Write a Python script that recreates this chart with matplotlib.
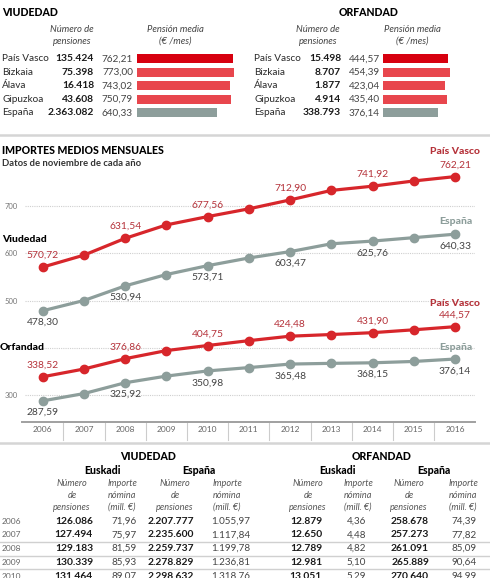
import matplotlib
matplotlib.use('Agg')
import matplotlib.pyplot as plt
from matplotlib.lines import Line2D
import matplotlib.transforms as mtransforms

plt.rcParams['font.family'] = ['Lato', 'DejaVu Sans']

########################## data ##########################
regiones = ['País Vasco', 'Bizkaia', 'Álava', 'Gipuzkoa', 'España']
viu_num = ['135.424', '75.398', '16.418', '43.608', '2.363.082']
viu_media = [762.21, 773.00, 743.02, 750.79, 640.33]
orf_num = ['15.498', '8.707', '1.877', '4.914', '338.793']
orf_media = [444.57, 454.39, 423.04, 435.40, 376.14]

years = [2006, 2007, 2008, 2009, 2010, 2011, 2012, 2013, 2014, 2015, 2016]
viu_pv = [570.72, 596, 631.54, 660, 677.56, 694, 712.90, 733, 741.92, 753, 762.21]
viu_es = [478.30, 500, 530.94, 555, 573.71, 590, 603.47, 620, 625.76, 633, 640.33]
orf_pv = [338.52, 355, 376.86, 394, 404.75, 415, 424.48, 428, 431.90, 438, 444.57]
orf_es = [287.59, 303, 325.92, 340, 350.98, 358, 365.48, 367, 368.15, 371, 376.14]
label_years = [2006, 2008, 2010, 2012, 2014, 2016]
yticks_shown = [300, 500, 600, 700]

tab_years = ['2006', '2007', '2008', '2009', '2010']
viu_eus_num = ['126.086', '127.494', '129.183', '130.339', '131.464']
viu_eus_imp = ['71,96', '75,97', '81,59', '85,93', '89,07']
viu_esp_num = ['2.207.777', '2.235.600', '2.259.737', '2.278.829', '2.298.632']
viu_esp_imp = ['1.055,97', '1.117,84', '1.199,78', '1.236,81', '1.318,76']
orf_eus_num = ['12.879', '12.650', '12.789', '12.981', '13.051']
orf_eus_imp = ['4,36', '4,48', '4,82', '5,10', '5,29']
orf_esp_num = ['258.678', '257.273', '261.091', '265.889', '270.640']
orf_esp_imp = ['74,39', '77,82', '85,09', '90,64', '94,99']

RED = '#d7262b'
RED_TXT = '#b5323a'
GRAY = '#8d9e9b'
BAR_DARK = '#d7000f'
BAR_RED = '#e8464d'
DARK = '#1a1a1a'
MID = '#444444'

W, H = 490, 578
fig = plt.figure(figsize=(W / 100, H / 100), dpi=100)
fig.patch.set_facecolor('white')


def ft(x, y, s, **kw):
    kw.setdefault('va', 'center')
    fig.text(x / W, 1 - y / H, s, **kw)


def ax_px(x0, y0, x1, y1):
    return fig.add_axes([x0 / W, 1 - y1 / H, (x1 - x0) / W, (y1 - y0) / H])


def fmt(v):
    return ('%.2f' % v).replace('.', ',')


########################## top tables ##########################
row_y = [58.8 + 13.5 * i for i in range(5)]


def top_table(title, tx, tha, lab_x, num_x, val_x, bar_x0, bar_x1, scale, nums, vals, hdr1, hdr2):
    ft(tx, 12, title, ha=tha, fontsize=7.6, fontweight='black', color='black')
    ft(hdr1, 30, 'Número de', ha='center', fontsize=6.8, style='italic', color=MID)
    ft(hdr1, 41, 'pensiones', ha='center', fontsize=6.8, style='italic', color=MID)
    ft(hdr2, 30, 'Pensión media', ha='center', fontsize=6.8, style='italic', color=MID)
    ft(hdr2, 41, '(€ /mes)', ha='center', fontsize=6.8, style='italic', color=MID)
    for i in range(5):
        ft(lab_x, row_y[i], regiones[i], ha='left', fontsize=7.2, color='#2a2a2a')
        ft(num_x, row_y[i], nums[i], ha='right', fontsize=7.4, fontweight='bold', color=DARK)
        ft(val_x, row_y[i], fmt(vals[i]), ha='right', fontsize=7.2, color=MID)
    ax = ax_px(bar_x0, row_y[0] - 6.75, bar_x1, row_y[-1] + 6.75)
    cols = [BAR_DARK, BAR_RED, BAR_RED, BAR_RED, GRAY]
    ax.barh(range(5), vals, height=0.67, color=cols)
    ax.set_xlim(0, (bar_x1 - bar_x0) / scale)
    ax.set_ylim(4.5, -0.5)
    ax.axis('off')


top_table('VIUDEDAD', 2, 'left', 2, 94, 133, 137, 245, 0.1255,
          viu_num, viu_media, 72, 175)
top_table('ORFANDAD', 369, 'center', 254, 341, 380, 383, 470, 0.147,
          orf_num, orf_media, 318, 412)

fig.add_artist(Line2D([0, 1], [1 - 134.5 / H] * 2, color='#d5d5d5', lw=1.8))
fig.add_artist(Line2D([0, 1], [1 - 443 / H] * 2, color='#d5d5d5', lw=1.8))

########################## line chart ##########################
ft(2, 150, 'IMPORTES MEDIOS MENSUALES', ha='left', fontsize=7.6, fontweight='black', color='black')
ft(2, 163, 'Datos de noviembre de cada año', ha='left', fontsize=6.8, fontweight='bold', color='#333333')

left, right, top, bottom = 22, 475, 140, 421.7
ax = ax_px(left, top, right, bottom)
ppy = 41.25
ppv = 0.4725
ax.set_xlim(2006 - (42.7 - left) / ppy, 2016 + (right - 455) / ppy)
ax.set_ylim(300 - (bottom - 395) / ppv, 700 + (206 - top) / ppv)
for s in ['top', 'right', 'left']:
    ax.spines[s].set_visible(False)
ax.spines['bottom'].set_color('#a0a0a0')
ax.spines['bottom'].set_linewidth(1.4)
ax.set_xticks([])
ax.set_yticks(yticks_shown)
ax.set_yticklabels([str(v) for v in yticks_shown], fontsize=5.5, color='#777777')
ax.tick_params(axis='y', length=0, pad=3)
for v in [300, 400, 500, 600, 700]:
    ax.axhline(v, xmin=0.006, xmax=1, color='#cfcfcf', lw=0.8, ls=(0, (1, 1)), zorder=0)

trans = mtransforms.blended_transform_factory(ax.transData, ax.transAxes)
hgt = bottom - top
for yr in years:
    ax.text(yr, -(430 - bottom) / hgt, str(yr), transform=trans, ha='center', va='center',
            fontsize=6, color='#666666')
    if yr < years[-1]:
        ax.add_line(Line2D([yr + 0.5, yr + 0.5], [0, -(440 - bottom) / hgt], transform=trans,
                           color='#cccccc', lw=0.8, clip_on=False))

for vals, col, tcol, up in [(viu_pv, RED, RED_TXT, True), (viu_es, GRAY, MID, False),
                            (orf_pv, RED, RED_TXT, True), (orf_es, GRAY, MID, False)]:
    ax.plot(years, vals, color=col, lw=2.3, marker='o', ms=6, zorder=3)
    for yr, v in zip(years, vals):
        if yr in label_years:
            ax.annotate(fmt(v), (yr, v), xytext=(0, 8.5 if up else -8.5), textcoords='offset points',
                        ha='center', va='center', fontsize=7.4, color=tcol)

ft(2, 239, 'Viudedad', ha='left', fontsize=7.5, fontweight='black', color='black')
ft(0, 347, 'Orfandad', ha='left', fontsize=7.5, fontweight='black', color='black')
ft(480, 152, 'País Vasco', ha='right', fontsize=7.5, fontweight='black', color=RED_TXT)
ft(472, 221, 'España', ha='right', fontsize=7.5, fontweight='black', color=GRAY)
ft(480, 303, 'País Vasco', ha='right', fontsize=7.5, fontweight='black', color=RED_TXT)
ft(472, 347, 'España', ha='right', fontsize=7.5, fontweight='black', color=GRAY)

########################## bottom table ##########################
trow = [521 + 13.8 * i for i in range(5)]


def bottom_block(title, tcx, eus_cx, esp_cx, cols, data):
    ft(tcx, 456, title, ha='center', fontsize=7.6, fontweight='black', color='black')
    ft(eus_cx, 471, 'Euskadi', ha='center', fontsize=7.6, fontweight='black', color='black')
    ft(esp_cx, 471, 'España', ha='center', fontsize=7.6, fontweight='black', color='black')
    hdrs = [['Número', 'de', 'pensiones'], ['Importe', 'nómina', '(mill. €)']] * 2
    for (cx, rx), hdr, (vals, bold) in zip(cols, hdrs, data):
        for j, line in enumerate(hdr):
            ft(cx, 483 + 12 * j, line, ha='center', fontsize=6.6, style='italic', color='#555555')
        for i, v in enumerate(vals):
            ft(rx, trow[i], v, ha='right', fontsize=7.4 if bold else 7.1,
               fontweight='bold' if bold else 'normal', color=DARK if bold else MID)


bottom_block('VIUDEDAD', 148, 102, 199,
             [(72, 93), (122, 137), (175, 194), (227, 250)],
             [(viu_eus_num, True), (viu_eus_imp, False), (viu_esp_num, True), (viu_esp_imp, False)])
bottom_block('ORFANDAD', 382, 337, 434,
             [(308, 322), (358, 366), (409, 429), (463, 477)],
             [(orf_eus_num, True), (orf_eus_imp, False), (orf_esp_num, True), (orf_esp_imp, False)])

for i, y in enumerate(trow):
    ft(2, y, tab_years[i], ha='left', fontsize=6, color='#666666')
for i in range(1, 4):
    yy = (trow[i] + trow[i + 1]) / 2
    fig.add_artist(Line2D([0, 1], [1 - yy / H] * 2, color='#d0d0d0', lw=1.0))

fig.savefig('out.png', dpi=100, facecolor='white')
